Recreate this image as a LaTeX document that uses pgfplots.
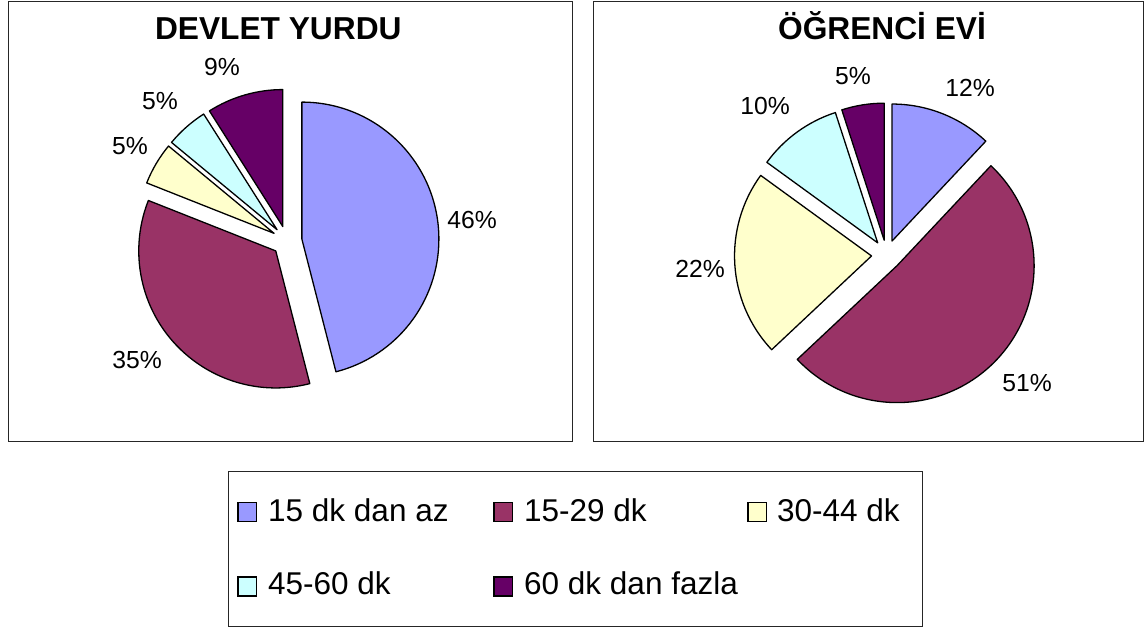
\documentclass[border=0pt]{standalone}
\usepackage{fontspec}
\setmainfont{Liberation Sans}
\usepackage{pgfplots}
\pgfplotsset{compat=1.18}
\usepackage{pgfplotstable}

\definecolor{c1}{HTML}{9999FF}
\definecolor{c2}{HTML}{993366}
\definecolor{c3}{HTML}{FFFFCC}
\definecolor{c4}{HTML}{CCFFFF}
\definecolor{c5}{HTML}{660066}

% value = share in %, lx/ly = label offset from pie centre
\pgfplotstableread{
value lx ly
46 185 20.5
35 -150 -119
5 -157 95
5 -127 140
9 -65 174
}\devlet
\pgfplotstableread{
value lx ly
12 83.5 167
51 140.5 -128.3
22 -186.5 -14
10 -121.5 149
5 -33.5 178.5
}\ogrenci

\newcommand\labelfont{\fontsize{24.7}{28}\selectfont}
\newcommand\legfont{\fontsize{31.5}{36}\selectfont}
\newcommand\titlefont{\fontsize{31.7}{36}\selectfont\bfseries}

% \drawpie{table}{cx}{cy}
\newcommand\drawpie[3]{%
  \def\cum{0}%
  \pgfplotsforeachungrouped \i in {0,...,4}{%
    \pgfplotstablegetelem{\i}{value}\of#1\let\val\pgfplotsretval
    \pgfplotstablegetelem{\i}{lx}\of#1\let\lx\pgfplotsretval
    \pgfplotstablegetelem{\i}{ly}\of#1\let\ly\pgfplotsretval
    \pgfmathsetmacro\aA{3.6*\cum}%
    \pgfmathsetmacro\aB{3.6*(\cum+\val)}%
    \pgfmathsetmacro\aM{(\aA+\aB)/2}%
    \pgfmathsetmacro\ox{#2+15*sin(\aM)}%
    \pgfmathsetmacro\oy{#3+15*cos(\aM)}%
    \pgfmathsetmacro\sx{\ox+137*cos(90-\aA)}%
    \pgfmathsetmacro\sy{\oy+137*sin(90-\aA)}%
    \pgfmathsetmacro\st{90-\aA}%
    \pgfmathsetmacro\en{90-\aB}%
    \pgfmathsetmacro\tx{#2+\lx}%
    \pgfmathsetmacro\ty{#3+\ly}%
    \pgfmathtruncatemacro\ci{\i+1}%
    \edef\cmd{\noexpand\draw[fill=c\ci, draw=black, line width=1.3pt, line join=round]
      (axis cs:\ox,\oy) -- (axis cs:\sx,\sy) arc[start angle=\st, end angle=\en, radius=137pt] -- cycle;
      \noexpand\node[font=\noexpand\labelfont, inner sep=0pt] at (axis cs:\tx,\ty) {\val\noexpand\%};}%
    \cmd
    \pgfmathsetmacro\cum{\cum+\val}%
  }%
}

\begin{document}
\begin{tikzpicture}
\path[use as bounding box] (0,0) rectangle (1145pt,628pt);
\begin{axis}[at={(0,0)}, anchor=south west, x=1pt, y=1pt,
  xmin=0, xmax=1145, ymin=0, ymax=628, hide axis, clip=false]
% panel frames
\draw[line width=1pt, black!85] (axis cs:8,186) rectangle (axis cs:572,626.3);
\draw[line width=1pt, black!85] (axis cs:593,186) rectangle (axis cs:1143.5,626.3);
\draw[line width=1pt, black!85] (axis cs:228.5,1) rectangle (axis cs:922,156);
% titles
\node[font=\titlefont, anchor=base, inner sep=0pt] at (axis cs:278.3,588.7) {DEVLET YURDU};
\node[font=\titlefont, anchor=base, inner sep=0pt] at (axis cs:882,588.7) {ÖĞRENCİ EVİ};
% pies
\drawpie{\devlet}{287}{387}
\drawpie{\ogrenci}{886.5}{373}
% legend
\draw[fill=c1, line width=1.3pt] (axis cs:238,106.3) rectangle (axis cs:256.5,125.3);
\draw[fill=c2, line width=1.3pt] (axis cs:494,106.3) rectangle (axis cs:512.5,125.3);
\draw[fill=c3, line width=1.3pt] (axis cs:748,106.3) rectangle (axis cs:766.5,125.3);
\draw[fill=c4, line width=1.3pt] (axis cs:238,32) rectangle (axis cs:256.5,51);
\draw[fill=c5, line width=1.3pt] (axis cs:494,32) rectangle (axis cs:512.5,51);
\node[font=\legfont, anchor=base west, inner sep=0pt] at (axis cs:268,106.3) {15 dk dan az};
\node[font=\legfont, anchor=base west, inner sep=0pt] at (axis cs:524,106.3) {15-29 dk};
\node[font=\legfont, anchor=base west, inner sep=0pt] at (axis cs:777,106.3) {30-44 dk};
\node[font=\legfont, anchor=base west, inner sep=0pt] at (axis cs:268,33) {45-60 dk};
\node[font=\legfont, anchor=base west, inner sep=0pt] at (axis cs:524,33) {60 dk dan fazla};
\end{axis}
\end{tikzpicture}
\end{document}
